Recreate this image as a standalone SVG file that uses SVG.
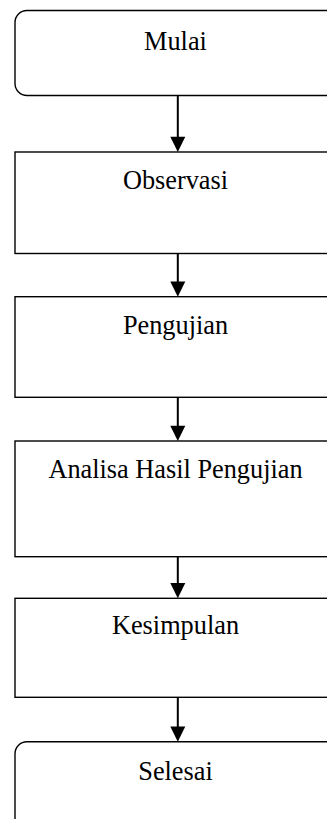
<svg xmlns="http://www.w3.org/2000/svg" width="327" height="819" viewBox="0 0 327 819">
<style>
.box{fill:#fff;stroke:#000;stroke-width:1.4}
.lbl{font-family:"Liberation Serif","Times New Roman",serif;font-size:26.3px;fill:#000;text-anchor:middle}
.conn{stroke:#000;stroke-width:2;fill:none}
.head{fill:#000;stroke:none}
</style>
<rect width="327" height="819" fill="#fff"/>
<g id="mulai"><rect class="box" x="15" y="10.5" width="326" height="85" rx="12" ry="12"/><text class="lbl" x="175.5" y="49.5">Mulai</text></g>
<g id="observasi"><rect class="box" x="15" y="152" width="326" height="101.5"/><text class="lbl" x="175.5" y="188.5">Observasi</text></g>
<g id="pengujian"><rect class="box" x="15" y="296.7" width="326" height="100.6"/><text class="lbl" x="175.5" y="333.5">Pengujian</text></g>
<g id="analisa"><rect class="box" x="15" y="441" width="326" height="115.7"/><text class="lbl" x="175.5" y="478.3">Analisa Hasil Pengujian</text></g>
<g id="kesimpulan"><rect class="box" x="15" y="598.3" width="326" height="99"/><text class="lbl" x="175.5" y="634">Kesimpulan</text></g>
<g id="selesai"><rect class="box" x="15" y="741.7" width="326" height="90" rx="12" ry="12"/><text class="lbl" x="175.5" y="780">Selesai</text></g>
<g id="connectors">
<line class="conn" x1="177.8" y1="95.5" x2="177.8" y2="138"/><polygon class="head" points="170.3,136.7 185.3,136.7 177.8,152"/>
<line class="conn" x1="177.8" y1="253.5" x2="177.8" y2="282"/><polygon class="head" points="170.3,281.5 185.3,281.5 177.8,296.7"/>
<line class="conn" x1="177.8" y1="397.3" x2="177.8" y2="427"/><polygon class="head" points="170.3,425.8 185.3,425.8 177.8,441"/>
<line class="conn" x1="177.8" y1="556.7" x2="177.8" y2="584"/><polygon class="head" points="170.3,583 185.3,583 177.8,598.3"/>
<line class="conn" x1="177.8" y1="697.3" x2="177.8" y2="728"/><polygon class="head" points="170.3,726.5 185.3,726.5 177.8,741.7"/>
</g>
</svg>
